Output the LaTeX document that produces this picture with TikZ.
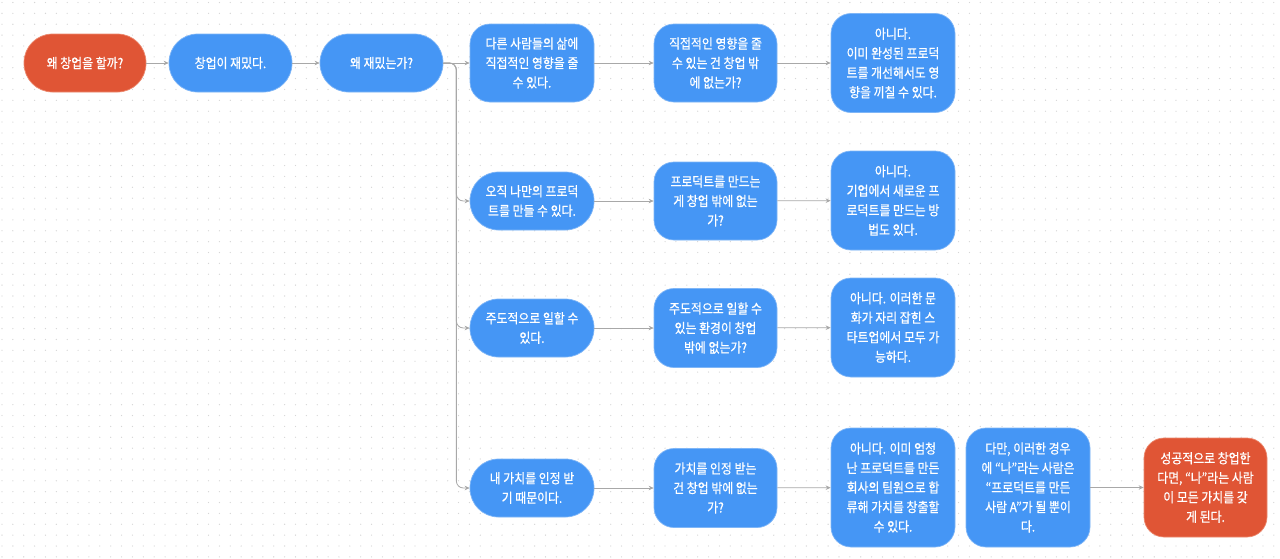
\documentclass[tikz,border=0pt]{standalone}
\usepackage{fontspec}
\setmainfont{Noto Sans CJK KR}[RawFeature={embolden=0.6}, FakeStretch=0.88]
\usetikzlibrary{arrows.meta}
\definecolor{bblue}{HTML}{4596F5}
\definecolor{bedge}{HTML}{7FB6F7}
\definecolor{rred}{HTML}{E05535}
\definecolor{redge}{HTML}{EC8A70}
\definecolor{lgray}{HTML}{A8A8A8}
\definecolor{dotc}{HTML}{D6D6D6}
\tikzset{
  box/.style={fill=bblue, draw=bedge, line width=0.7pt, text=white, align=center,
    inner sep=0pt, font=\fontsize{13.5}{19.5}\selectfont, rounded corners=20pt},
  redbox/.style={box, fill=rred, draw=redge},
  pill/.style={rounded corners=28.5pt, minimum height=58pt},
  conn/.style={draw=lgray, line width=0.8pt, -{Stealth[length=5pt,width=4.5pt]}},
}
\begin{document}
\begin{tikzpicture}[x=1pt,y=-1pt]
\useasboundingbox (0,0) rectangle (1280,558);
\fill[white] (0,0) rectangle (1280,558);
\foreach \i in {0,...,117} {
  \foreach \j in {0,...,51} {
    \fill[dotc] ({2+\i*10.87},{2.5+\j*10.87}) circle (0.65);
  }
}
% first row chain
\node[redbox, pill, minimum width=122pt] (n1) at (85,63) {왜 창업을 할까?};
\node[box, pill, minimum width=123pt] (n2) at (230.5,63) {창업이 재밌다.};
\node[box, pill, minimum width=123pt] (n3) at (381.5,63) {왜 재밌는가?};
% row 1
\node[box, minimum width=124pt, minimum height=78pt] (r1a) at (532,63) {다른 사람들의 삶에\\직접적인 영향을 줄\\수 있다.};
\node[box, minimum width=123pt, minimum height=78pt] (r1b) at (715.5,63) {직접적인 영향을 줄\\수 있는 건 창업 밖\\에 없는가?};
\node[box, minimum width=124pt, minimum height=99pt] (r1c) at (893,63) {아니다.\\이미 완성된 프로덕\\트를 개선해서도 영\\향을 끼칠 수 있다.};
% row 2
\node[box, pill, minimum width=124pt] (r2a) at (532,201) {오직 나만의 프로덕\\트를 만들 수 있다.};
\node[box, minimum width=123pt, minimum height=78pt] (r2b) at (715.5,201) {프로덕트를 만드는\\게 창업 밖에 없는\\가?};
\node[box, minimum width=124pt, minimum height=99pt] (r2c) at (893,200.5) {아니다.\\기업에서 새로운 프\\로덕트를 만드는 방\\법도 있다.};
% row 3
\node[box, pill, minimum width=124pt] (r3a) at (532,328) {주도적으로 일할 수\\있다.};
\node[box, minimum width=123pt, minimum height=79pt] (r3b) at (715.5,328) {주도적으로 일할 수\\있는 환경이 창업\\밖에 없는가?};
\node[box, minimum width=124pt, minimum height=99pt] (r3c) at (893,327.5) {아니다. 이러한 문\\화가 자리 잡힌 스\\타트업에서 모두 가\\능하다.};
% row 4
\node[box, pill, minimum width=124pt] (r4a) at (532,488) {내 가치를 인정 받\\기 때문이다.};
\node[box, minimum width=123pt, minimum height=79pt] (r4b) at (715.5,488) {가치를 인정 받는\\건 창업 밖에 없는\\가?};
\node[box, minimum width=124pt, minimum height=119pt] (r4c) at (893,487.5) {아니다. 이미 엄청\\난 프로덕트를 만든\\회사의 팀원으로 합\\류해 가치를 창출할\\수 있다.};
\node[box, minimum width=124pt, minimum height=119pt] (r4d) at (1028,487.5) {다만, 이러한 경우\\에 “나"라는 사람은\\“프로덕트를 만든\\사람 A”가 될 뿐이\\다.};
\node[redbox, minimum width=123pt, minimum height=99pt] (r4e) at (1205.5,487.5) {성공적으로 창업한\\다면, “나"라는 사람\\이 모든 가치를 갖\\게 된다.};
% connectors
\draw[conn] (n1) -- (n2);
\draw[conn] (n2) -- (n3);
\draw[conn] (n3) -- (r1a);
\draw[conn, rounded corners=7pt] (n3.east) -- ++(13,0) |- (r2a.west);
\draw[conn, rounded corners=7pt] (n3.east) -- ++(13,0) |- (r3a.west);
\draw[conn, rounded corners=7pt] (n3.east) -- ++(13,0) |- (r4a.west);
\draw[conn] (r1a) -- (r1b);
\draw[conn] (r1b) -- (r1c);
\draw[conn] (r2a) -- (r2b);
\draw[conn] (r2b) -- (r2c);
\draw[conn] (r3a) -- (r3b);
\draw[conn] (r3b) -- (r3c);
\draw[conn] (r4a) -- (r4b);
\draw[conn] (r4b) -- (r4c);
\draw[conn] (r4d) -- (r4e);
\end{tikzpicture}
\end{document}
